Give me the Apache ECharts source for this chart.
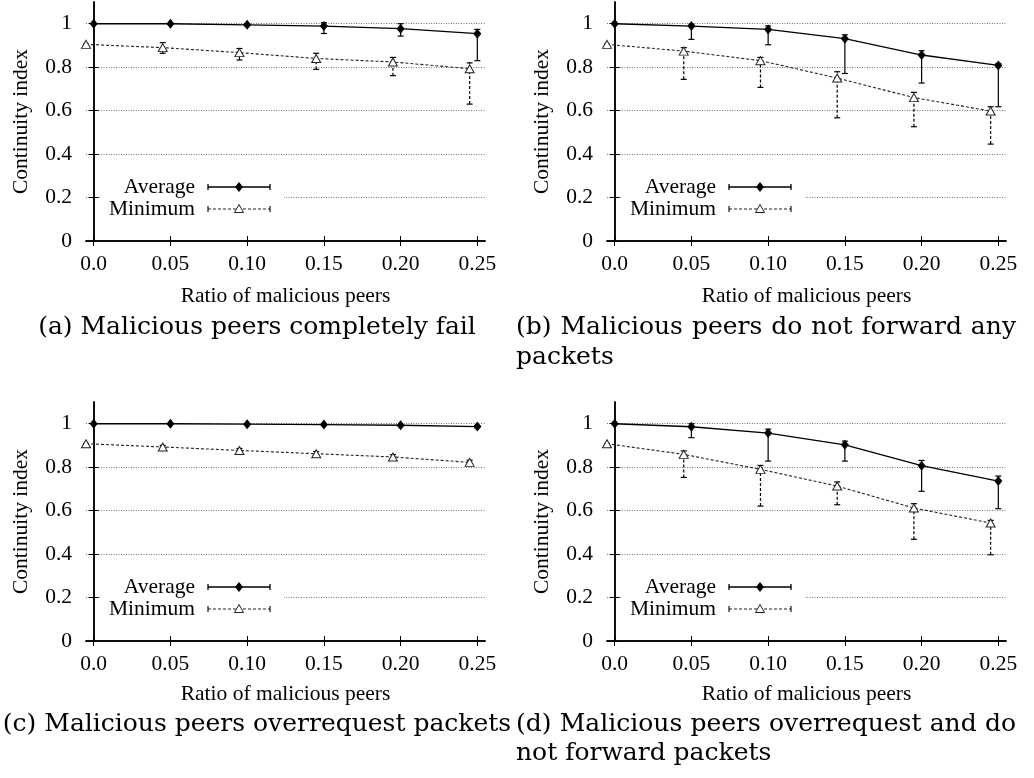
<!DOCTYPE html>
<html>
<head>
<meta charset="utf-8">
<title>Continuity index vs ratio of malicious peers</title>
<script src="https://cdn.jsdelivr.net/npm/echarts@6.0.0/dist/echarts.min.js"></script>
<style>
html, body { margin: 0; padding: 0; background: #fff; }
#chart { width: 1034px; height: 778px; }
</style>
</head>
<body>
<div id="chart"></div>
<script>
// x positions: Average points sit on the tick, Minimum points are drawn slightly to the left
const ratios = [0, 0.05, 0.10, 0.15, 0.20, 0.25];
const minRatios = [-0.005, 0.045, 0.095, 0.145, 0.195, 0.245];
const xTicks = [0, 0.05, 0.10, 0.15, 0.20, 0.25];
const xTickLabels = ['0.0', '0.05', '0.10', '0.15', '0.20', '0.25'];
const yTicks = [0, 0.2, 0.4, 0.6, 0.8, 1];
const yTickLabels = ['0', '0.2', '0.4', '0.6', '0.8', '1'];
const seriesNames = ['Average', 'Minimum'];

// (a) malicious peers completely fail
const avgA = [1.0, 1.0, 0.995, 0.989, 0.977, 0.954];
const avgALow = [1.0, 0.997, 0.99, 0.955, 0.943, 0.83];
const avgAHigh = [1.0, 1.0, 1.0, 1.005, 1.0, 0.974];
const minA = [0.905, 0.89, 0.867, 0.84, 0.824, 0.793];
const minALow = [0.905, 0.864, 0.833, 0.79, 0.761, 0.63];
const minAHigh = [0.905, 0.913, 0.886, 0.864, 0.845, 0.82];

// (b) malicious peers do not forward any packets
const avgB = [1.0, 0.989, 0.974, 0.931, 0.856, 0.808];
const avgBLow = [1.0, 0.928, 0.903, 0.771, 0.727, 0.618];
const avgBHigh = [1.0, 0.998, 0.99, 0.949, 0.876, 0.817];
const minB = [0.905, 0.874, 0.83, 0.75, 0.66, 0.598];
const minBLow = [0.905, 0.744, 0.707, 0.567, 0.526, 0.446];
const minBHigh = [0.905, 0.89, 0.845, 0.779, 0.684, 0.618];

// (c) malicious peers overrequest packets
const avgC = [1.0, 1.0, 0.998, 0.996, 0.993, 0.987];
const avgCLow = [1.0, 0.998, 0.995, 0.992, 0.99, 0.982];
const avgCHigh = [1.0, 1.0, 1.0, 0.999, 0.996, 0.991];
const minC = [0.908, 0.893, 0.877, 0.862, 0.847, 0.822];
const minCLow = [0.908, 0.885, 0.868, 0.852, 0.834, 0.81];
const minCHigh = [0.908, 0.9, 0.886, 0.872, 0.858, 0.832];

// (d) malicious peers overrequest and do not forward packets
const avgD = [1.0, 0.986, 0.957, 0.903, 0.807, 0.736];
const avgDLow = [1.0, 0.936, 0.828, 0.828, 0.689, 0.609];
const avgDHigh = [1.0, 1.0, 0.975, 0.92, 0.831, 0.759];
const minD = [0.908, 0.859, 0.79, 0.713, 0.612, 0.543];
const minDLow = [0.908, 0.753, 0.621, 0.627, 0.468, 0.397];
const minDHigh = [0.908, 0.875, 0.808, 0.732, 0.632, 0.555];

const captionA = '(a) Malicious peers completely fail';
const captionB = ['(b) Malicious peers do not forward any', 'packets'];
const captionC = '(c) Malicious peers overrequest packets';
const captionD = ['(d) Malicious peers overrequest and do', 'not forward packets'];

const panels = [
    { avg: avgA, avgLow: avgALow, avgHigh: avgAHigh, min: minA, minLow: minALow, minHigh: minAHigh },
    { avg: avgB, avgLow: avgBLow, avgHigh: avgBHigh, min: minB, minLow: minBLow, minHigh: minBHigh },
    { avg: avgC, avgLow: avgCLow, avgHigh: avgCHigh, min: minC, minLow: minCLow, minHigh: minCHigh },
    { avg: avgD, avgLow: avgDLow, avgHigh: avgDHigh, min: minD, minLow: minDLow, minHigh: minDHigh }
];

const FONT = 'Liberation Serif';
const CAP_FONT = 'DejaVu Serif';
const boxes = [
    { left: 86, top: 2 }, { left: 607, top: 2 },
    { left: 86, top: 402 }, { left: 607, top: 402 }
];
const W = 399, H = 239;

let myChart = echarts.init(document.getElementById('chart'));

function pick(list, labels, v) {
    let k = list.findIndex(t => Math.abs(t - v) < 1e-9);
    return k < 0 ? '' : labels[k];
}

function errorBars(dashed) {
    return function (params, api) {
        let x = api.value(0);
        let lo = api.coord([x, api.value(1)]);
        let hi = api.coord([x, api.value(2)]);
        let cap = { stroke: '#000', lineWidth: 1.2 };
        return {
            type: 'group',
            children: [
                { type: 'line', shape: { x1: lo[0], y1: lo[1], x2: hi[0], y2: hi[1] },
                  style: { stroke: '#000', lineWidth: 1.2, lineDash: dashed ? [3, 2] : null } },
                { type: 'line', shape: { x1: lo[0] - 3, y1: lo[1], x2: lo[0] + 3, y2: lo[1] }, style: cap },
                { type: 'line', shape: { x1: hi[0] - 3, y1: hi[1], x2: hi[0] + 3, y2: hi[1] }, style: cap }
            ]
        };
    };
}

let grids = [], xAxes = [], yAxes = [], series = [], graphics = [];

boxes.forEach((b, i) => {
    grids.push({ left: b.left, top: b.top, width: W, height: H });
    let tick = { show: true, inside: true, length: 5, lineStyle: { color: '#000', width: 1 } };
    let line = { show: true, lineStyle: { color: '#000', width: 1.5 } };
    xAxes.push({
        type: 'value', gridIndex: i, min: -0.005, max: 0.255, position: 'bottom',
        name: 'Ratio of malicious peers', nameLocation: 'middle', nameGap: i < 2 ? 44 : 42,
        nameTextStyle: { fontFamily: FONT, fontSize: 21.5, color: '#000' },
        axisLine: line,
        axisTick: Object.assign({ customValues: xTicks }, tick),
        axisLabel: { customValues: xTicks, margin: 12, fontFamily: FONT, fontSize: 21.5, color: '#000',
                     formatter: v => pick(xTicks, xTickLabels, v) },
        splitLine: { show: false }
    });
    xAxes.push({
        type: 'value', gridIndex: i, min: -0.005, max: 0.255, position: 'top',
        axisLine: line,
        axisTick: Object.assign({ customValues: xTicks }, tick),
        axisLabel: { show: false }, splitLine: { show: false }
    });
    yAxes.push({
        type: 'value', gridIndex: i, min: 0, max: 1.1, interval: 0.2, position: 'left',
        name: 'Continuity index', nameLocation: 'middle', nameGap: 54, nameRotate: 90,
        nameTextStyle: { fontFamily: FONT, fontSize: 21.5, color: '#000' },
        axisLine: line,
        axisTick: Object.assign({ customValues: yTicks }, tick),
        axisLabel: { customValues: yTicks, margin: 14, fontFamily: FONT, fontSize: 21.5, color: '#000',
                     formatter: v => pick(yTicks, yTickLabels, v) },
        splitLine: { show: true, lineStyle: { color: '#777', width: 1, type: [1, 1.5] } }
    });
    yAxes.push({
        type: 'value', gridIndex: i, min: 0, max: 1.1, interval: 0.2, position: 'right',
        axisLine: line,
        axisTick: Object.assign({ customValues: yTicks }, tick),
        axisLabel: { show: false }, splitLine: { show: false }
    });

    let p = panels[i];
    series.push({
        type: 'custom', name: seriesNames[0] + ' error', xAxisIndex: 2 * i, yAxisIndex: 2 * i,
        renderItem: errorBars(false), silent: true, z: 2,
        encode: { x: 0, y: [1, 2] },
        data: ratios.map((x, k) => [x, p.avgLow[k], p.avgHigh[k]])
    });
    series.push({
        type: 'custom', name: seriesNames[1] + ' error', xAxisIndex: 2 * i, yAxisIndex: 2 * i,
        renderItem: errorBars(true), silent: true, z: 2,
        encode: { x: 0, y: [1, 2] },
        data: minRatios.map((x, k) => [x, p.minLow[k], p.minHigh[k]])
    });
    series.push({
        type: 'line', name: seriesNames[0], xAxisIndex: 2 * i, yAxisIndex: 2 * i, z: 3,
        symbol: 'diamond', symbolSize: [8, 10],
        itemStyle: { color: '#000' },
        lineStyle: { color: '#000', width: 1.3 },
        data: ratios.map((x, k) => [x, p.avg[k]])
    });
    series.push({
        type: 'line', name: seriesNames[1], xAxisIndex: 2 * i, yAxisIndex: 2 * i, z: 3,
        symbol: 'triangle', symbolSize: [9, 8],
        itemStyle: { color: '#fff', borderColor: '#222', borderWidth: 1 },
        lineStyle: { color: '#222', width: 1.1, type: [3, 2] },
        data: minRatios.map((x, k) => [x, p.min[k]])
    });

    // key box inside each plot
    let L = b.left, T = b.top;
    let ya = T + 185, ym = T + 207, cx = L + 153;
    let solid = { stroke: '#000', lineWidth: 1.3 };
    let dash = { stroke: '#222', lineWidth: 1.1, lineDash: [3, 2] };
    let txt = (s, y) => ({ type: 'text', x: L + 109, y: y, z: 101,
        style: { text: s, fontFamily: FONT, fontSize: 21.5, fill: '#000', align: 'right', verticalAlign: 'middle' } });
    graphics.push(
        { type: 'rect', z: 100, shape: { x: L + 14, y: T + 174, width: 184, height: 44 }, style: { fill: '#fff' } },
        txt(seriesNames[0], ya), txt(seriesNames[1], ym),
        { type: 'line', z: 101, shape: { x1: L + 122, y1: ya, x2: L + 184, y2: ya }, style: solid },
        { type: 'line', z: 101, shape: { x1: L + 122, y1: ya - 3, x2: L + 122, y2: ya + 3 }, style: solid },
        { type: 'line', z: 101, shape: { x1: L + 184, y1: ya - 3, x2: L + 184, y2: ya + 3 }, style: solid },
        { type: 'polygon', z: 102, shape: { points: [[cx, ya - 5], [cx + 4, ya], [cx, ya + 5], [cx - 4, ya]] }, style: { fill: '#000' } },
        { type: 'line', z: 101, shape: { x1: L + 122, y1: ym, x2: L + 184, y2: ym }, style: dash },
        { type: 'line', z: 101, shape: { x1: L + 122, y1: ym - 3, x2: L + 122, y2: ym + 3 }, style: { stroke: '#000', lineWidth: 1.1 } },
        { type: 'line', z: 101, shape: { x1: L + 184, y1: ym - 3, x2: L + 184, y2: ym + 3 }, style: { stroke: '#000', lineWidth: 1.1 } },
        { type: 'polygon', z: 102, shape: { points: [[cx, ym - 4.5], [cx + 4.5, ym + 3.5], [cx - 4.5, ym + 3.5]] },
          style: { fill: '#fff', stroke: '#222', lineWidth: 1 } }
    );
});

// captions under each panel, the two-line ones are justified like in the paper
const CAP_SIZE = 25;
let ctx = document.createElement('canvas').getContext('2d');
ctx.font = CAP_SIZE + 'px "' + CAP_FONT + '"';

function capText(s, x, y, align) {
    return { type: 'text', x: x, y: y, z: 101,
        style: { text: s, fontFamily: CAP_FONT, fontSize: CAP_SIZE, fill: '#000', align: align, verticalAlign: 'middle' } };
}

function justified(s, x0, x1, y) {
    let words = s.split(' ');
    let widths = words.map(w => ctx.measureText(w).width);
    let total = widths.reduce((a, c) => a + c, 0);
    let gap = (x1 - x0 - total) / (words.length - 1);
    let x = x0, out = [];
    words.forEach((w, k) => {
        out.push(capText(w, x, y, 'left'));
        x += widths[k] + gap;
    });
    return out;
}

graphics.push(capText(captionA, 257, 327, 'center'));
graphics.push(...justified(captionB[0], 516, 1016, 327));
graphics.push(capText(captionB[1], 516, 357, 'left'));
graphics.push(capText(captionC, 257, 724, 'center'));
graphics.push(...justified(captionD[0], 516, 1016, 724));
graphics.push(capText(captionD[1], 516, 753, 'left'));

let options = {
    animation: false,
    backgroundColor: '#fff',
    grid: grids,
    xAxis: xAxes,
    yAxis: yAxes,
    series: series,
    graphic: graphics
};
myChart.setOption(options);
window.addEventListener('resize', () => { myChart.resize(); });
</script>
</body>
</html>
